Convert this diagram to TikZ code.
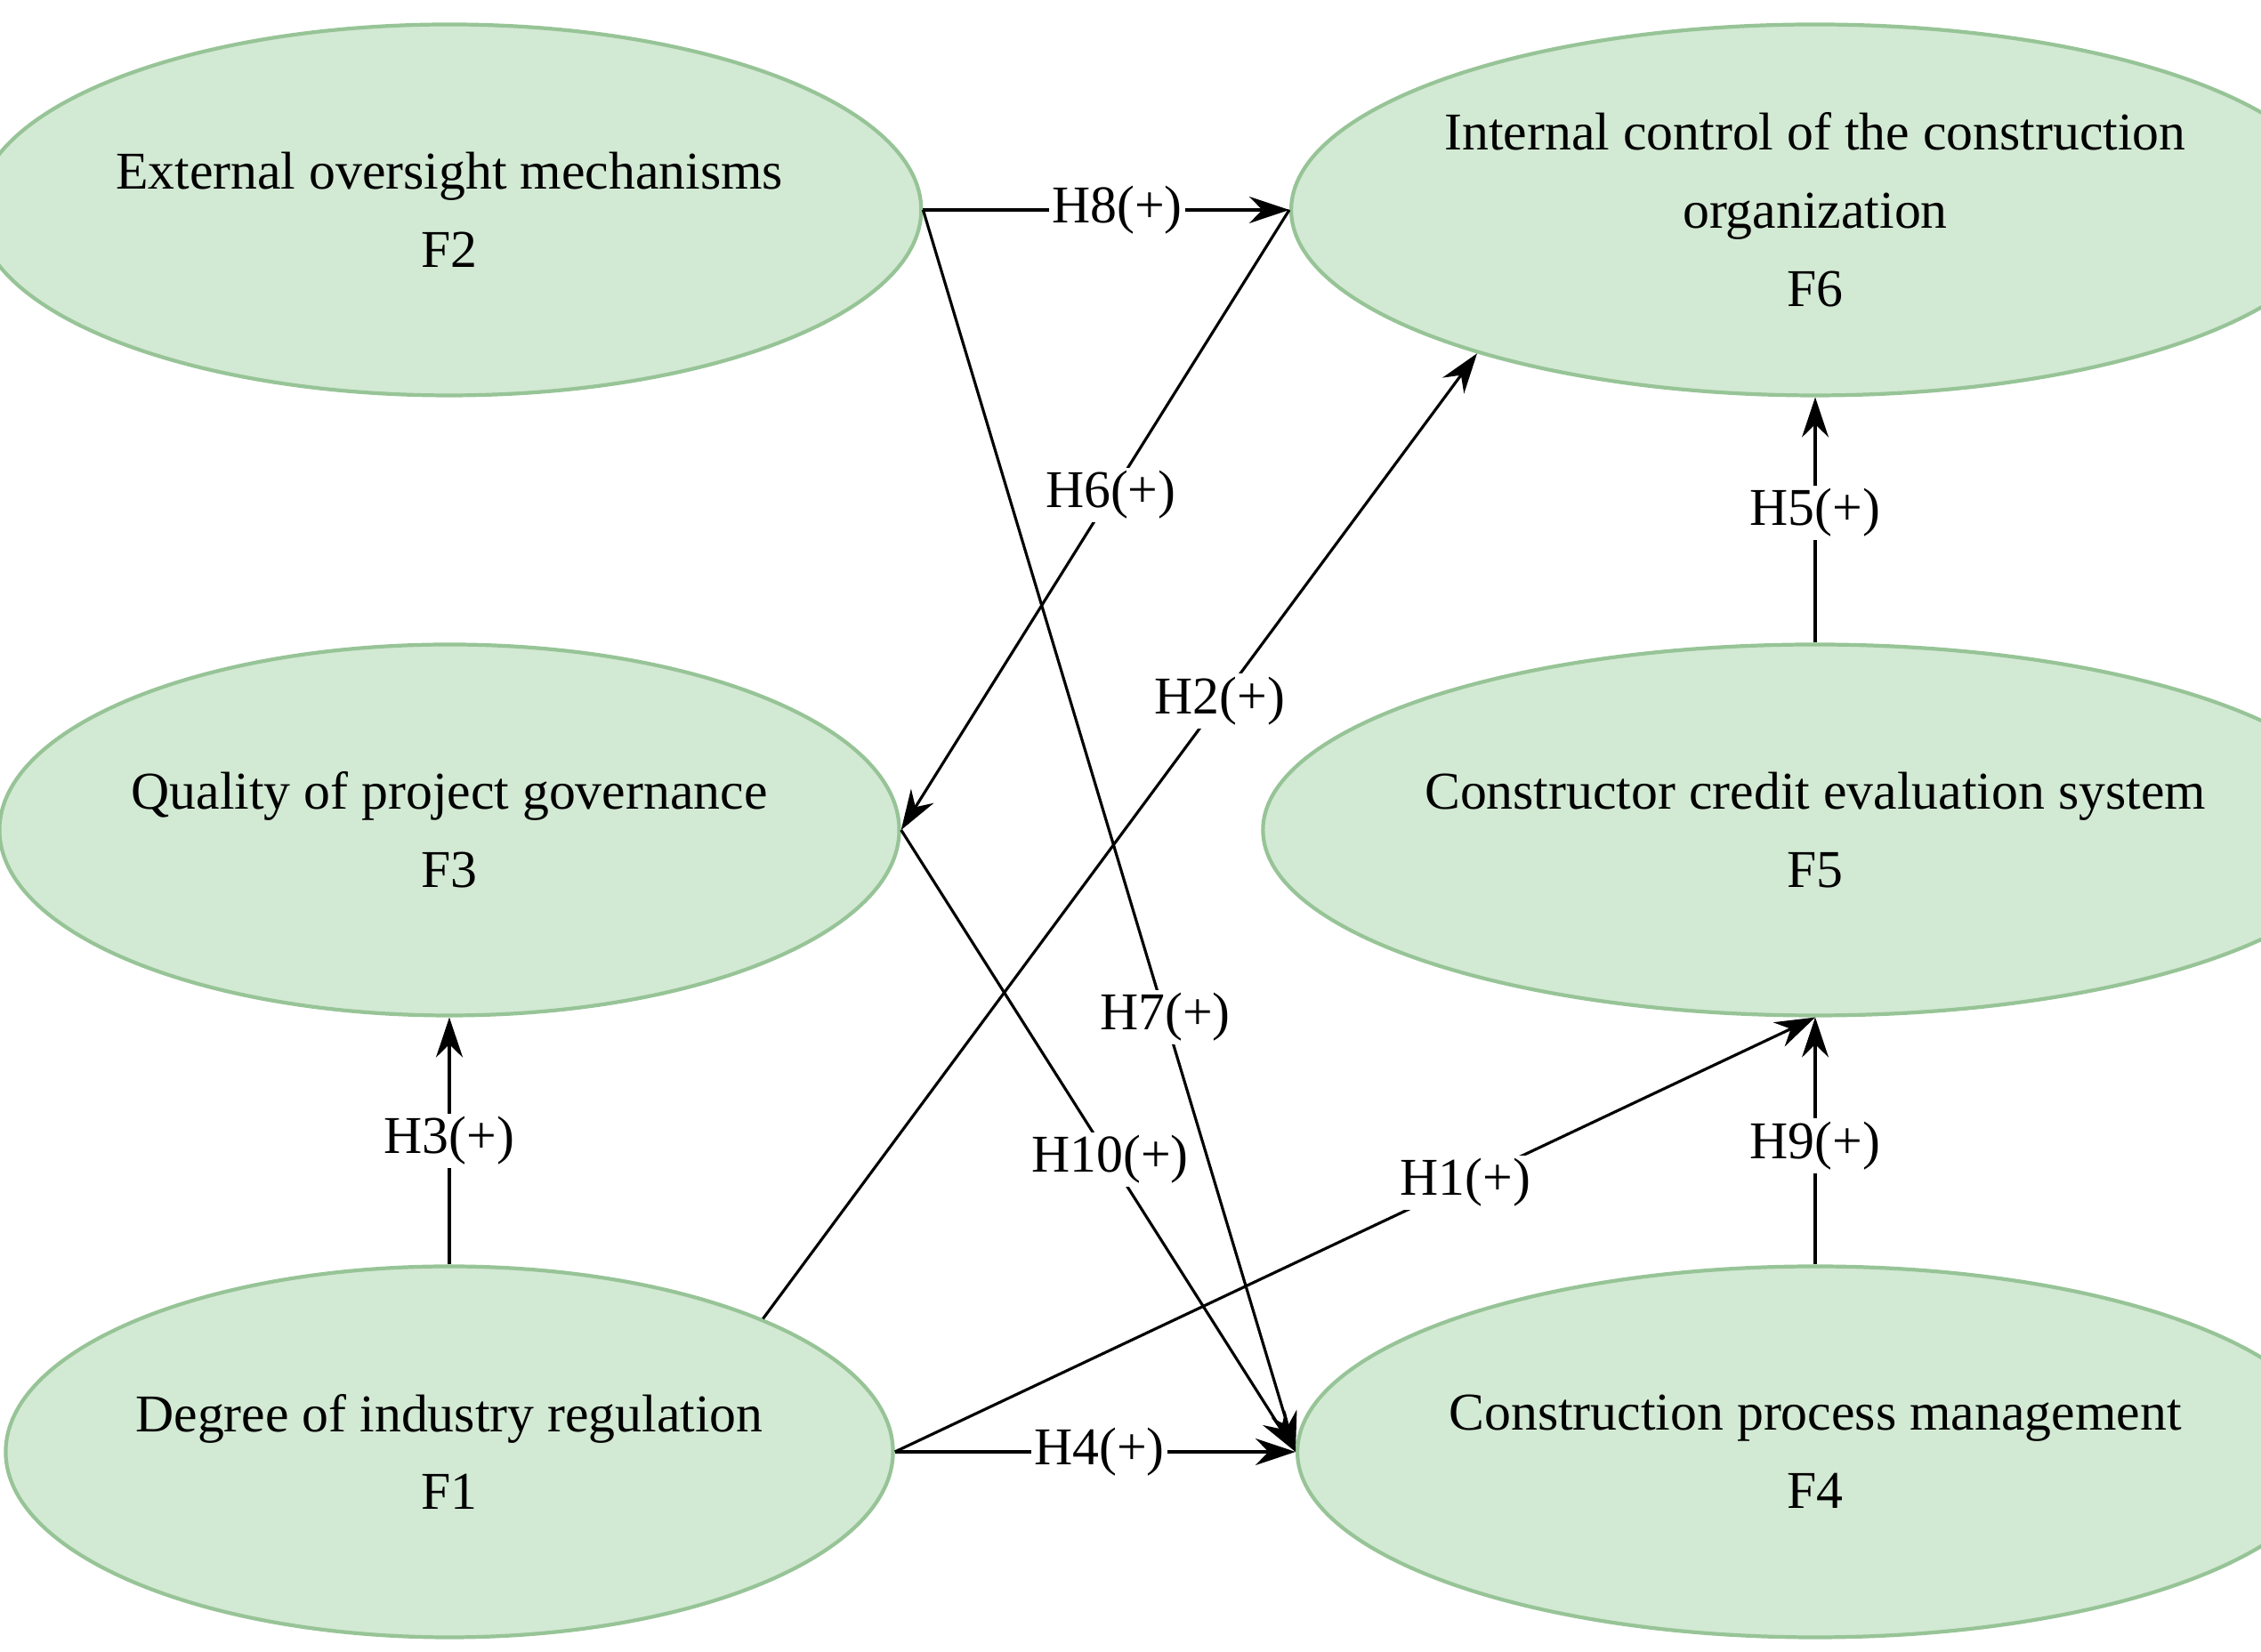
\documentclass[tikz,border=0pt]{standalone}
\usepackage{fontspec}
\setmainfont{Liberation Serif}
\usetikzlibrary{shapes.geometric,arrows.meta}
\definecolor{fillg}{HTML}{D2E9D3}
\definecolor{drawg}{HTML}{97C497}
\begin{document}
\begin{tikzpicture}[
  el/.style={ellipse,draw=drawg,fill=fillg,line width=1.2pt,minimum width=9.78cm,minimum height=4.17cm,align=center,inner sep=0pt,font=\fontsize{17}{25}\selectfont},
  ar/.style={line width=0.9pt,-{Stealth[length=4.5mm,width=3mm]}},
  lb/.style={fill=white,inner sep=1pt,font=\fontsize{17}{20}\selectfont}]
\useasboundingbox (0,0) rectangle (25.41,18.57);
\node[el] (F2) at (5.05,16.21) {External oversight mechanisms\\F2};
\node[el] (F6) at (20.40,16.21) {Internal control of the construction\\organization\\F6};
\node[el] (F3) at (5.05,9.24) {Quality of project governance\\F3};
\node[el] (F5) at (20.40,9.24) {Constructor credit evaluation system\\F5};
\node[el] (F1) at (5.05,2.25) {Degree of industry regulation\\F1};
\node[el] (F4) at (20.40,2.25) {Construction process management\\F4};
\draw[ar] (F2.east) -- node[lb,pos=0.53]{H8(+)} (F6.west);
\draw[ar] (F6.west) -- node[lb,pos=0.46]{H6(+)} (F3.east);
\draw[ar] (F1.23.5) -- node[lb,pos=0.64]{H2(+)} (F6.203.5);
\draw[ar] (F2.east) -- node[lb,pos=0.65]{H7(+)} (F4.west);
\draw[ar] (F3.east) -- node[lb,pos=0.53]{H10(+)} (F4.west);
\draw[ar] (F1.east) -- node[lb,pos=0.62]{H1(+)} (F5.south);
\draw[ar] (F1.east) -- node[lb,pos=0.51]{H4(+)} (F4.west);
\draw[ar] (F1.north) -- node[lb,pos=0.5]{H3(+)} (F3.south);
\draw[ar] (F5.north) -- node[lb,pos=0.53]{H5(+)} (F6.south);
\draw[ar,{Stealth[length=4.5mm,width=3mm]}-] (F5.south) -- node[lb,pos=0.52]{H9(+)} (F4.north);
\end{tikzpicture}
\end{document}
